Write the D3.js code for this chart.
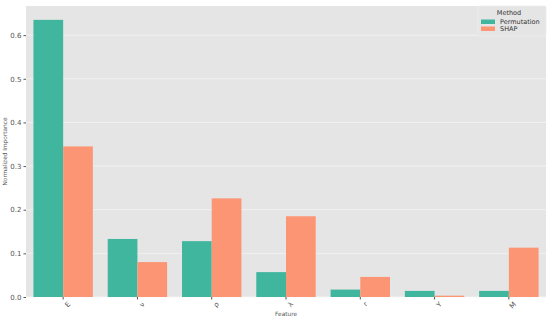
<!DOCTYPE html>
<html>
<head>
<meta charset="utf-8">
<script src="https://cdn.jsdelivr.net/npm/d3@7"></script>
<style>
  body { margin: 0; background: #fff; }
  text { font-family: "DejaVu Sans", sans-serif; }
</style>
</head>
<body>
<svg id="chart" width="550" height="319"></svg>
<script>
var features = ["E", "ν", "ρ", "λ", "r", "Y", "M"];
var methods = ["Permutation", "SHAP"];
var permutation = [0.635, 0.133, 0.128, 0.057, 0.017, 0.014, 0.014];
var shap = [0.345, 0.080, 0.226, 0.185, 0.046, 0.003, 0.113];
var yTicks = [0.0, 0.1, 0.2, 0.3, 0.4, 0.5, 0.6];

var colors = {Permutation: "#41b69f", SHAP: "#fc9574"};

var svg = d3.select("#chart"),
    margin = {top: 6, right: 4, bottom: 22, left: 26},
    width = +svg.attr("width") - margin.left - margin.right,
    height = +svg.attr("height") - margin.top - margin.bottom;

var rows = features.map(function(f, i) {
  return {feature: f, Permutation: permutation[i], SHAP: shap[i]};
});

var x = d3.scaleBand().domain(features).range([0, width]).paddingInner(0.2).paddingOuter(0.1);
var xs = d3.scaleBand().domain(methods).range([0, x.bandwidth()]);
var y = d3.scaleLinear().domain([0, d3.max(permutation) * 1.05]).range([height, 0]);

var g = svg.append("g").attr("transform", "translate(" + margin.left + "," + margin.top + ")");

g.append("rect").attr("width", width).attr("height", height).attr("fill", "#e5e5e5");

// grid
g.append("g").selectAll("line").data(yTicks).enter().append("line")
    .attr("x1", 0).attr("x2", width)
    .attr("y1", function(d) { return y(d); }).attr("y2", function(d) { return y(d); })
    .attr("stroke", "#f6f6f6").attr("stroke-width", 0.7);

// bars
g.append("g").selectAll("g").data(rows).enter().append("g")
    .attr("transform", function(d) { return "translate(" + x(d.feature) + ",0)"; })
  .selectAll("rect")
  .data(function(d) { return methods.map(function(m) { return {method: m, value: d[m]}; }); })
  .enter().append("rect")
    .attr("x", function(d) { return xs(d.method); })
    .attr("width", xs.bandwidth())
    .attr("y", function(d) { return y(d.value); })
    .attr("height", function(d) { return height - y(d.value); })
    .attr("fill", function(d) { return colors[d.method]; });

// y axis
var yAxis = g.append("g")
    .call(d3.axisLeft(y).tickValues(yTicks).tickFormat(d3.format(".1f")).tickSize(2.5).tickPadding(2));
yAxis.select(".domain").remove();
yAxis.selectAll("line").attr("stroke", "#555");
yAxis.selectAll("text").attr("fill", "#555").style("font-size", "7px");

// x axis
var xAxis = g.append("g").attr("transform", "translate(0," + height + ")")
    .call(d3.axisBottom(x).tickSize(2.5).tickPadding(2));
xAxis.select(".domain").remove();
xAxis.selectAll("line").attr("stroke", "#555");
xAxis.selectAll("text")
    .attr("fill", "#555").style("font-size", "7px")
    .attr("text-anchor", "end")
    .attr("dy", "0.3em")
    .attr("transform", "translate(3,3) rotate(-45)");

// axis labels
svg.append("text")
    .attr("x", margin.left + width / 2).attr("y", 316)
    .attr("text-anchor", "middle").attr("fill", "#555")
    .style("font-size", "5.8px").text("Feature");

svg.append("text")
    .attr("transform", "translate(7," + (margin.top + height / 2) + ") rotate(-90)")
    .attr("text-anchor", "middle").attr("fill", "#555")
    .style("font-size", "5.8px").text("Normalized Importance");

// legend
var lg = svg.append("g").attr("transform", "translate(478,6)");
lg.append("rect").attr("width", 68).attr("height", 30)
    .attr("fill", "#e5e5e5").attr("stroke", "#eeeeee").attr("stroke-width", 0.8).attr("rx", 1.5);
lg.append("text").attr("x", 31).attr("y", 8.5).attr("text-anchor", "middle")
    .attr("fill", "#333").style("font-size", "6.5px").text("Method");
methods.forEach(function(m, i) {
  lg.append("rect").attr("x", 3).attr("y", 13.5 + i * 7).attr("width", 14).attr("height", 4.5)
      .attr("fill", colors[m]);
  lg.append("text").attr("x", 22).attr("y", 18 + i * 7)
      .attr("fill", "#333").style("font-size", "6.5px").text(m);
});
</script>
</body>
</html>
